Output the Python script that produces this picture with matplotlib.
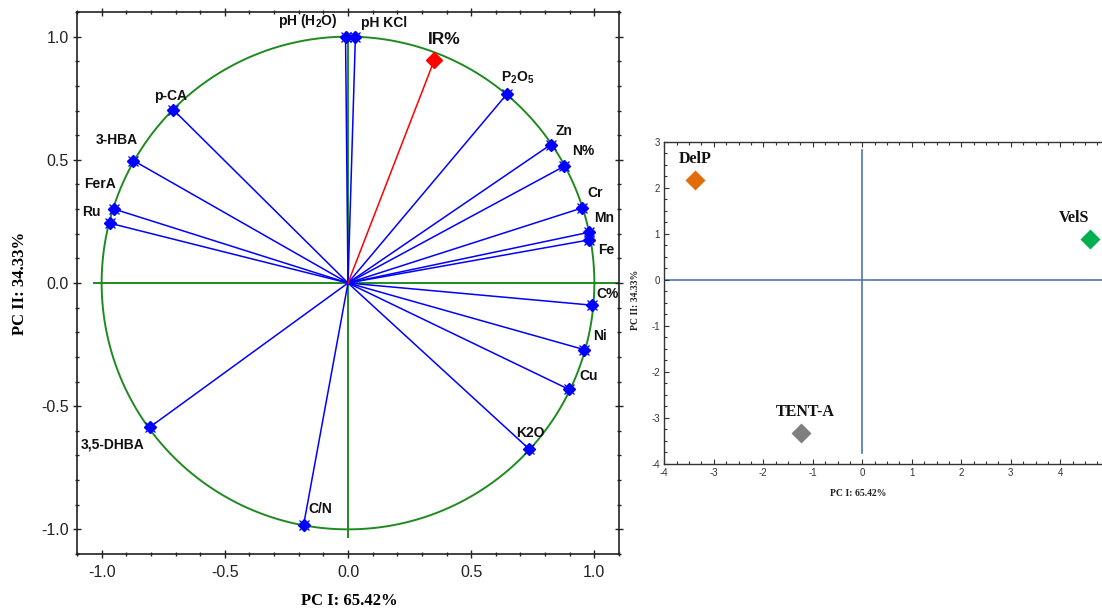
import numpy as np
import matplotlib
matplotlib.use("Agg")
import matplotlib.pyplot as plt
from matplotlib.ticker import MultipleLocator, FixedLocator, FormatStrFormatter

plt.rcParams['axes.unicode_minus'] = False
plt.rcParams['font.family'] = ['Liberation Sans', 'DejaVu Sans']

# ---- Loadings of the variables on PC I / PC II ----
var_names = ["pH (H$_\\mathregular{2}$O)", "pH KCl", "P$_\\mathregular{2}$O$_\\mathregular{5}$", "Zn", "N%", "Cr", "Mn",
             "Fe", "C%", "Ni", "Cu", "K2O", "C/N", "3,5-DHBA", "FerA", "Ru",
             "3-HBA", "p-CA"]
pc1_load = [-0.01, 0.03, 0.645, 0.822, 0.876, 0.948, 0.979,
            0.979, 0.99, 0.957, 0.897, 0.733, -0.18, -0.803, -0.949, -0.968,
            -0.871, -0.709]
pc2_load = [1.0, 1.0, 0.767, 0.561, 0.473, 0.304, 0.206,
            0.175, -0.09, -0.27, -0.432, -0.672, -0.981, -0.584, 0.30, 0.243,
            0.497, 0.703]

# supplementary variable
sup_name = "IR%"
sup_pc1 = 0.35
sup_pc2 = 0.904

# ---- Scores of the samples ----
sample_names = ["DelP", "VelS", "TENT-A"]
score_pc1 = [-3.374, 4.593, -1.239]
score_pc2 = [2.165, 0.883, -3.33]

# tick values shown on the score plot
score_xticks = [-4, -3, -2, -1, 0, 1, 2, 3, 4]
score_yticks = [-4, -3, -2, -1, 0, 1, 2, 3]

# label offsets (points) for the loading labels
label_offsets = {
    "pH (H$_\\mathregular{2}$O)": (-27, 11), "pH KCl": (21, 10), "P$_\\mathregular{2}$O$_\\mathregular{5}$": (8, 12),
    "Zn": (10, 10), "N%": (14, 11), "Cr": (10, 11), "Mn": (11, 10),
    "Fe": (12, -7), "C%": (11, 8), "Ni": (12, 10), "Cu": (14, 10),
    "K2O": (1, 11), "C/N": (12, 11), "3,5-DHBA": (-27, -13),
    "FerA": (-10, 18), "Ru": (-13, 8), "3-HBA": (-12, 15), "p-CA": (-2, 10),
}

W, H = 1102, 608
fig = plt.figure(figsize=(W / 100, H / 100), dpi=100)

green = "#1f8a1f"
blue = "#0000ff"

# ================= Correlation circle =================
ax1 = fig.add_axes([77 / W, (H - 554) / H, 542 / W, 542 / H])
ax1.set_xlim(-1.1, 1.1)
ax1.set_ylim(-1.1, 1.1)

theta = np.linspace(0, 2 * np.pi, 721)
ax1.plot(np.cos(theta), np.sin(theta), color=green, lw=1.4, zorder=1)
ax1.plot([-1.03, 1.1], [0, 0], color=green, lw=1.4, zorder=1)
ax1.plot([0, 0], [-1.03, 1.0], color=green, lw=1.4, zorder=1)

for name, x, y in zip(var_names, pc1_load, pc2_load):
    ax1.plot([0, x], [0, y], color=blue, lw=1.1, zorder=2)
    ax1.plot(x, y, marker="D", ms=6, color=blue, zorder=3)
    ax1.plot(x, y, marker="x", ms=6.5, mew=0.9, color=blue, zorder=3)
    dx, dy = label_offsets[name]
    ax1.annotate(name, (x, y), xytext=(dx, dy), textcoords="offset points",
                 ha="center", va="center", fontsize=10, fontweight="bold",
                 color="#111111", zorder=4)

ax1.plot([0, sup_pc1], [0, sup_pc2], color="#ff0000", lw=1.1, zorder=2)
ax1.plot(sup_pc1, sup_pc2, marker="D", ms=8, color="#ff0000", zorder=3)
ax1.annotate(sup_name, (sup_pc1, sup_pc2), xytext=(7, 15), textcoords="offset points",
             ha="center", va="center", fontsize=12.5, fontweight="bold",
             color="#111111", zorder=4)

ax1.xaxis.set_major_locator(MultipleLocator(0.5))
ax1.yaxis.set_major_locator(MultipleLocator(0.5))
ax1.xaxis.set_minor_locator(MultipleLocator(0.1))
ax1.yaxis.set_minor_locator(MultipleLocator(0.1))
ax1.tick_params(which="both", direction="inout", top=True, right=True,
                color="#222222", width=1.0)
ax1.tick_params(which="major", length=6, labelsize=11.5, labelcolor="#222222", pad=5)
ax1.tick_params(axis="y", which="major", pad=3)
ax1.tick_params(which="minor", length=3.5)
ax1.xaxis.set_major_formatter(FormatStrFormatter("%.1f"))
ax1.yaxis.set_major_formatter(FormatStrFormatter("%.1f"))
for sp in ax1.spines.values():
    sp.set_linewidth(1.2)
    sp.set_color("#222222")

fig.text(349 / W, 1 - 601 / H, "PC I: 65.42%", ha="center", va="center",
         fontsize=12, fontweight="bold", family=["Liberation Serif"])
fig.text(20 / W, 1 - 283 / H, "PC II: 34.33%", ha="center", va="center",
         rotation=90, fontsize=12, fontweight="bold", family=["Liberation Serif"])

# ================= Score plot =================
ax2 = fig.add_axes([664.3 / W, (H - 464) / H, 445.5 / W, 322.3 / H])
ax2.set_xlim(-4, 5)
ax2.set_ylim(-4, 3)

line_blue = "#4d74ae"
ax2.plot([-4, 5], [0, 0], color=line_blue, lw=1.2, zorder=1)
ax2.plot([0, 0], [-3.77, 2.81], color=line_blue, lw=1.2, zorder=1)

sample_colors = {"DelP": "#e36c0a", "VelS": "#00b050", "TENT-A": "#7f7f7f"}
sample_label_offsets = {"DelP": (0, 15), "VelS": (-11, 15), "TENT-A": (3, 15)}
for name, x, y in zip(sample_names, score_pc1, score_pc2):
    ax2.plot(x, y, marker="D", ms=10.5, color=sample_colors[name], mec="none", zorder=3)
    dx, dy = sample_label_offsets[name]
    ax2.annotate(name, (x, y), xytext=(dx, dy), textcoords="offset points",
                 ha="center", va="center", fontsize=11.5, fontweight="bold",
                 family=["Liberation Serif"], color="#111111")

ax2.xaxis.set_major_locator(FixedLocator(score_xticks))
ax2.yaxis.set_major_locator(FixedLocator(score_yticks))
ax2.xaxis.set_minor_locator(MultipleLocator(0.25))
ax2.yaxis.set_minor_locator(MultipleLocator(0.25))
ax2.tick_params(which="both", direction="in", top=True, right=True,
                color="#333333", width=0.8)
ax2.tick_params(which="major", length=3.5, labelsize=7, labelcolor="#333333", pad=3)
ax2.tick_params(which="minor", length=2)
for sp in ax2.spines.values():
    sp.set_linewidth(1.0)
    sp.set_color("#333333")

fig.text(858 / W, 1 - 494 / H, "PC I: 65.42%", ha="center", va="center",
         fontsize=7, fontweight="bold", family=["Liberation Serif"], color="#222222")
fig.text(636 / W, 1 - 300 / H, "PC II: 34.33%", ha="center", va="center",
         rotation=90, fontsize=7, fontweight="bold", family=["Liberation Serif"],
         color="#222222")

fig.savefig("out.png", dpi=100)
